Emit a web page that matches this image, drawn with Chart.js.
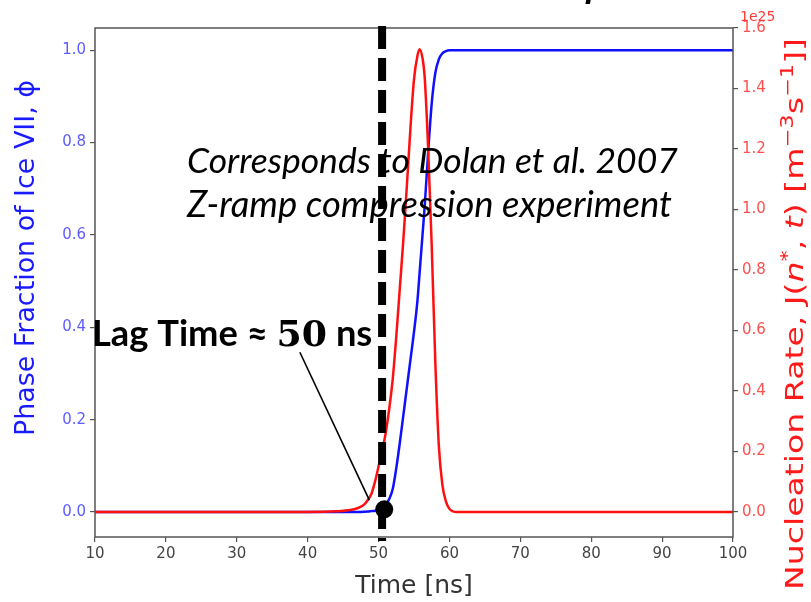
<!DOCTYPE html>
<html>
<head>
    <title>Ice VII nucleation</title>
    <script src="https://cdn.jsdelivr.net/npm/chart.js"></script>
    <style>
        body { margin: 0; background: #fff; }
        canvas { display: block; }
    </style>
</head>
<body>
    <canvas id="chart" width="811" height="602"></canvas>

    <script>
        // time samples [ns]
        const times = [10, 40, 44, 46, 47, 48, 48.5, 49, 49.5, 50, 50.5, 51, 51.5, 52, 52.5, 53, 53.5, 54, 54.5, 55,
            55.5, 55.8, 56.2, 56.5, 57, 57.5, 58, 58.5, 59, 59.5, 60, 60.5, 61, 62, 100];
        // phase fraction of ice VII (left axis)
        const phaseFraction = [0, 0, 0, 0, 0, 0.0005, 0.001, 0.002, 0.003, 0.005, 0.009, 0.016, 0.028, 0.05, 0.095, 0.15,
            0.21, 0.27, 0.33, 0.39, 0.46, 0.52, 0.6, 0.66, 0.78, 0.885, 0.95, 0.98, 0.993, 0.998, 1, 1, 1, 1, 1];
        // nucleation rate, units of 1e25 (right axis)
        const nucleationRate = [0, 0, 0.002, 0.006, 0.012, 0.025, 0.04, 0.06, 0.1, 0.15, 0.2, 0.26, 0.34, 0.44, 0.58, 0.74,
            0.9, 1.08, 1.27, 1.43, 1.51, 1.53, 1.5, 1.44, 1.2, 0.88, 0.5, 0.22, 0.09, 0.035, 0.01, 0.002, 0, 0, 0];

        const xTicks = [10, 20, 30, 40, 50, 60, 70, 80, 90, 100];
        const leftTicks = [0, 0.2, 0.4, 0.6, 0.8, 1.0];
        const rightTicks = [0, 0.2, 0.4, 0.6, 0.8, 1.0, 1.2, 1.4, 1.6];

        // annotation anchors (data coords)
        const lagLineTime = 50.5;
        const lagDot = { x: 50.8, y: 0.006 };
        const pointerFrom = { x: 38.9, y: 0.346 };
        const pointerTo = { x: 48.7, y: 0.026 };

        function fitSize(ctx, text, style, family, width) {
            ctx.font = style + ' 100px ' + family;
            return 100 * width / ctx.measureText(text).width;
        }

        // draw a run of [text, font, raise] pieces along the current baseline
        function drawRuns(ctx, runs, x, y) {
            let cx = x;
            for (const [txt, font, raise] of runs) {
                ctx.font = font;
                ctx.fillText(txt, cx, y - raise);
                cx += ctx.measureText(txt).width;
            }
        }

        function runsWidth(ctx, runs) {
            let w = 0;
            for (const [txt, font] of runs) {
                ctx.font = font;
                w += ctx.measureText(txt).width;
            }
            return w;
        }

        // scale a run list built at 100px so that it spans the given width
        function scaleRuns(ctx, runs100, width) {
            const k = width / runsWidth(ctx, runs100);
            return runs100.map(r => [r[0], r[1].replace(/(\d+)px/, (m, n) => (n * k).toFixed(1) + 'px'), r[2] * k]);
        }

        const overlay = {
            id: 'overlay',
            afterDatasetsDraw(chart) {
                const { ctx, chartArea: a, scales: { x, y } } = chart;
                ctx.save();

                // frame
                ctx.strokeStyle = '#555';
                ctx.lineWidth = 1.5;
                ctx.strokeRect(a.left, a.top, a.right - a.left, a.bottom - a.top);

                // dashed lag time line
                const lx = x.getPixelForValue(lagLineTime);
                ctx.strokeStyle = '#000';
                ctx.lineWidth = 8;
                ctx.setLineDash([23, 9]);
                ctx.beginPath();
                ctx.moveTo(lx, a.top - 2);
                ctx.lineTo(lx, a.bottom + 4);
                ctx.stroke();
                ctx.setLineDash([]);

                // pointer line
                ctx.lineWidth = 1.6;
                ctx.beginPath();
                ctx.moveTo(x.getPixelForValue(pointerFrom.x), y.getPixelForValue(pointerFrom.y));
                ctx.lineTo(x.getPixelForValue(pointerTo.x), y.getPixelForValue(pointerTo.y));
                ctx.stroke();

                // dot
                ctx.fillStyle = '#000';
                ctx.beginPath();
                ctx.arc(x.getPixelForValue(lagDot.x), y.getPixelForValue(lagDot.y), 9, 0, Math.PI * 2);
                ctx.fill();

                // italic note
                ctx.fillStyle = '#000';
                ctx.textAlign = 'left';
                ctx.textBaseline = 'alphabetic';
                const line1 = 'Corresponds to Dolan et al. 2007';
                const line2 = 'Z-ramp compression experiment';
                ctx.font = 'italic ' + fitSize(ctx, line1, 'italic', 'Lato', 491) + 'px Lato';
                ctx.fillText(line1, 187, 173);
                ctx.font = 'italic ' + fitSize(ctx, line2, 'italic', 'Lato', 485) + 'px Lato';
                ctx.fillText(line2, 187, 217);

                // lag time label
                const lag = scaleRuns(ctx, [
                    ['Lag Time \u2248 ', 'bold 100px Lato', 0],
                    ['50', 'bold 100px "DejaVu Serif"', 0],
                    [' ns', 'bold 100px Lato', 0]
                ], 280);
                drawRuns(ctx, lag, 92, 346);

                ctx.restore();
            },
            afterDraw(chart) {
                const { ctx } = chart;
                ctx.save();
                ctx.textBaseline = 'alphabetic';

                // clipped title fragment at top
                ctx.fillStyle = '#000';
                ctx.font = 'bold italic 26px "DejaVu Serif"';
                ctx.textAlign = 'right';
                ctx.fillText('Z-ramp', 603, -1);

                // 1e25 offset label
                ctx.fillStyle = '#ff3b3b';
                ctx.font = '14px "DejaVu Sans"';
                ctx.textAlign = 'left';
                ctx.fillText('1e25', 740, 21);

                // x title
                ctx.fillStyle = '#333';
                ctx.font = '25px "DejaVu Sans"';
                ctx.textAlign = 'center';
                ctx.fillText('Time [ns]', 414, 593);

                // left title
                ctx.save();
                ctx.translate(27, 258);
                ctx.rotate(-Math.PI / 2);
                ctx.fillStyle = '#1a1aff';
                const lt = 'Phase Fraction of Ice VII, \u03d5';
                ctx.font = fitSize(ctx, lt, '', '"DejaVu Sans"', 356) + 'px "DejaVu Sans"';
                ctx.textAlign = 'center';
                ctx.textBaseline = 'middle';
                ctx.fillText(lt, 0, 0);
                ctx.restore();

                // right title, stretched along its baseline to the reference length
                const f = '"DejaVu Sans"';
                const rt = [
                    ['Nucleation Rate, J(', '25px ' + f, 0],
                    ['n', 'italic 25px ' + f, 0],
                    ['*', '17px ' + f, 10],
                    [', ', '25px ' + f, 0],
                    ['t', 'italic 25px ' + f, 0],
                    [') [m', '25px ' + f, 0],
                    ['\u22123', '17px ' + f, 10],
                    ['s', '25px ' + f, 0],
                    ['\u22121', '17px ' + f, 10],
                    [']]', '25px ' + f, 0]
                ];
                const rw = runsWidth(ctx, rt);
                const stretch = 552 / rw;
                ctx.save();
                ctx.translate(803, 314);
                ctx.rotate(-Math.PI / 2);
                ctx.scale(stretch, 1);
                ctx.fillStyle = '#ff1a1a';
                ctx.textAlign = 'left';
                drawRuns(ctx, rt, -rw / 2, 0);
                ctx.restore();

                ctx.restore();
            }
        };

        const tickFont = { family: 'DejaVu Sans', size: 15 };
        const gridOpts = { drawOnChartArea: false, drawTicks: true, tickLength: 5, color: '#555', lineWidth: 1.2 };

        new Chart(document.getElementById('chart'), {
            type: 'line',
            data: {
                datasets: [
                    {
                        label: 'J',
                        data: times.map((t, i) => ({ x: t, y: nucleationRate[i] })),
                        yAxisID: 'yR',
                        borderColor: '#ff1010',
                        borderWidth: 2.5,
                        pointRadius: 0,
                        cubicInterpolationMode: 'monotone',
                        fill: false
                    },
                    {
                        label: 'phi',
                        data: times.map((t, i) => ({ x: t, y: phaseFraction[i] })),
                        yAxisID: 'y',
                        borderColor: '#1010ff',
                        borderWidth: 2.5,
                        pointRadius: 0,
                        cubicInterpolationMode: 'monotone',
                        fill: false
                    }
                ]
            },
            options: {
                responsive: false,
                animation: false,
                devicePixelRatio: 1,
                layout: { padding: { top: 28, left: 0, right: 0, bottom: 0 } },
                plugins: { legend: { display: false }, tooltip: { enabled: false } },
                scales: {
                    x: {
                        type: 'linear',
                        min: 10,
                        max: 100,
                        afterBuildTicks: s => { s.ticks = xTicks.map(v => ({ value: v })); },
                        afterFit: s => { s.height = 65; },
                        border: { display: false },
                        grid: gridOpts,
                        ticks: { color: '#444', font: tickFont, padding: 3, maxRotation: 0 }
                    },
                    y: {
                        position: 'left',
                        min: -0.054,
                        max: 1.048,
                        afterBuildTicks: s => { s.ticks = leftTicks.map(v => ({ value: v })); },
                        afterFit: s => { s.width = 95; },
                        border: { display: false },
                        grid: gridOpts,
                        ticks: { color: '#5c5cff', font: tickFont, padding: 4, callback: v => v.toFixed(1) }
                    },
                    yR: {
                        position: 'right',
                        min: -0.083,
                        max: 1.6,
                        afterBuildTicks: s => { s.ticks = rightTicks.map(v => ({ value: v })); },
                        afterFit: s => { s.width = 78; },
                        border: { display: false },
                        grid: gridOpts,
                        ticks: { color: '#ff5050', font: tickFont, padding: 4, callback: v => v.toFixed(1) }
                    }
                }
            },
            plugins: [overlay]
        });
    </script>
</body>
</html>
